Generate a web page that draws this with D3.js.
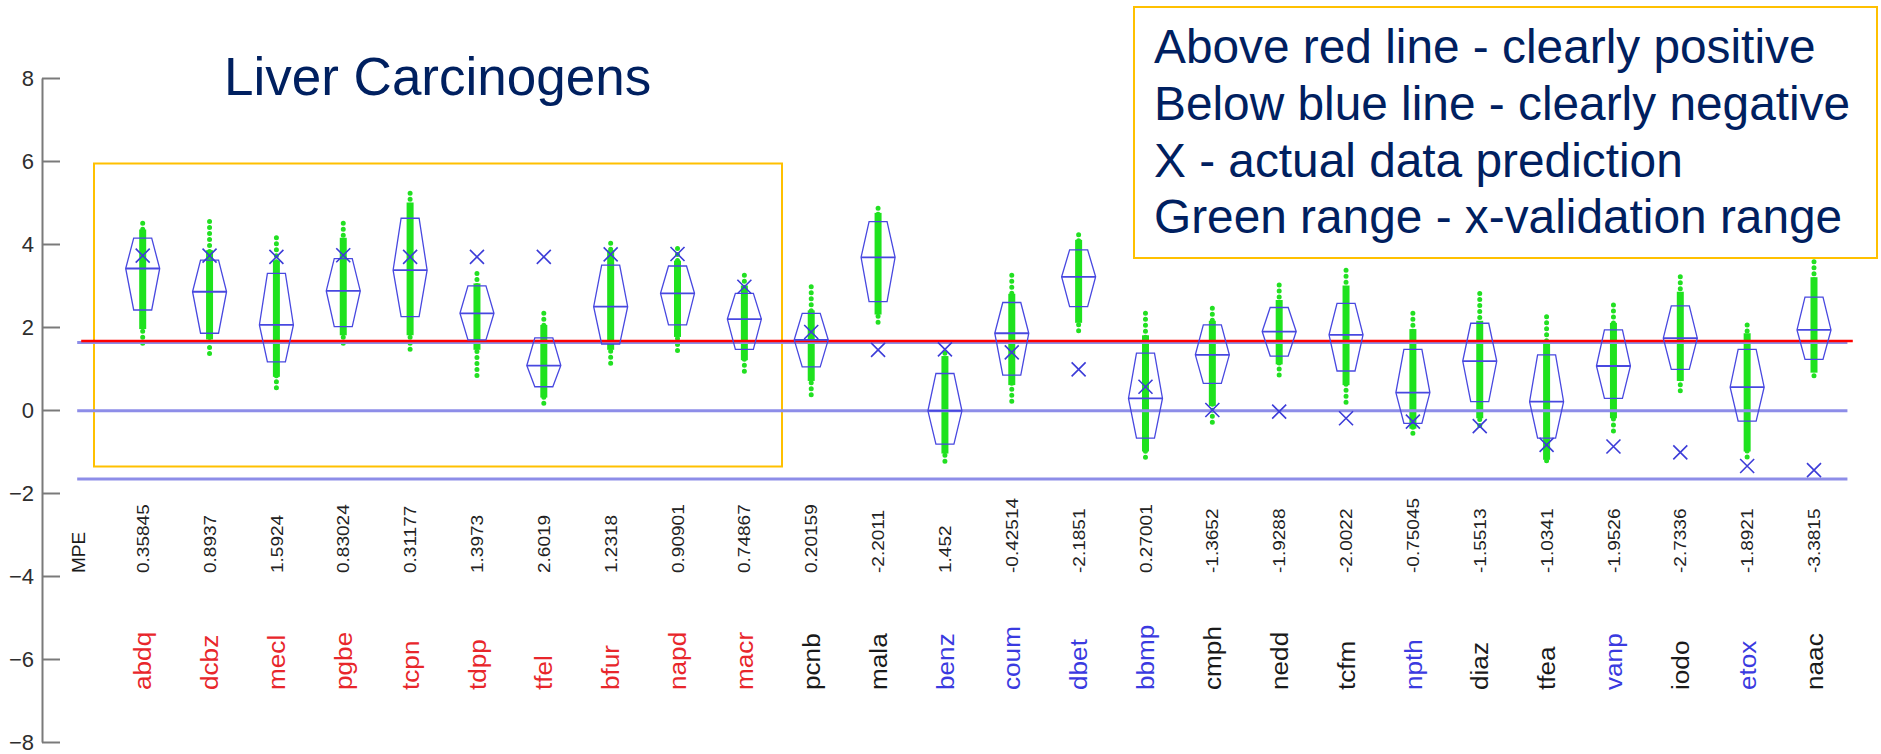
<!DOCTYPE html>
<html>
<head>
<meta charset="utf-8">
<script src="https://cdn.jsdelivr.net/npm/d3@7"></script>
<style>
  html, body { margin: 0; padding: 0; background: #fff; }
  svg { display: block; font-family: "Liberation Sans", Arial, sans-serif; }
  .ylab { font-size: 22px; fill: #2e2e2e; }
</style>
</head>
<body>
<svg id="chart" width="1881" height="754"></svg>
<script>
// Compounds tested, in plotting order
const compounds = ["abdq","dcbz","mecl","pgbe","tcpn","tdpp","tfel","bfur","napd","macr",
  "pcnb","mala","benz","coum","dbet","bbmp","cmph","nedd","tcfm","npth","diaz","tfea",
  "vanp","iodo","etox","naac"];
// Known class: pos = carcinogen, neg = non-carcinogen, unk = not established
const knownClass = ["pos","pos","pos","pos","pos","pos","pos","pos","pos","pos",
  "unk","unk","neg","neg","neg","neg","unk","unk","unk","neg","unk","unk",
  "neg","unk","neg","unk"];
// Mean prediction error per compound
const mpeLabels = ["0.35845","0.8937","1.5924","0.83024","0.31177","1.3973","2.6019","1.2318",
  "0.90901","0.74867","0.20159","-2.2011","1.452","-0.42514","-2.1851","0.27001","-1.3652",
  "-1.9288","-2.0022","-0.75045","-1.5513","-1.0341","-1.9526","-2.7336","-1.8921","-3.3815"];
// Cross-validation score distribution per compound
const upperQuartile = [4.14,3.61,3.29,3.65,4.62,2.99,1.74,3.49,3.47,2.81,2.33,4.54,0.88,2.59,
  3.86,1.37,2.05,2.47,2.57,1.46,2.09,1.33,1.93,2.51,1.46,2.72];
const medianScore = [3.41,2.85,2.05,2.87,3.37,2.33,1.07,2.49,2.81,2.19,1.69,3.68,-0.02,1.85,
  3.21,0.28,1.33,1.89,1.81,0.42,1.18,0.20,1.06,1.73,0.55,1.93];
const lowerQuartile = [2.41,1.85,1.16,2.01,2.25,1.69,0.56,1.59,2.05,1.46,1.04,2.61,-0.82,0.84,
  2.49,-0.68,0.64,1.30,0.94,-0.32,0.20,-0.68,0.28,0.98,-0.27,1.22];
const runMax = [4.50,4.54,4.15,4.50,5.22,3.29,2.33,4.02,3.89,3.25,2.97,4.86,1.37,3.25,4.22,
  2.33,2.45,3.01,3.37,2.33,2.81,2.25,2.53,3.21,2.05,3.57];
const denseTop = [4.35,3.85,3.60,4.15,5.00,3.05,2.05,3.85,3.60,3.00,2.40,4.75,1.30,2.80,4.10,
  1.80,2.15,2.65,3.00,1.95,2.15,1.60,2.10,2.85,1.85,3.20];
const denseBottom = [1.95,1.70,0.80,1.80,1.80,1.45,0.30,1.45,1.76,1.20,0.70,2.30,-1.05,0.60,
  2.10,-1.00,0.10,1.10,0.60,-0.45,-0.20,-1.20,-0.20,0.70,-1.00,0.90];
const runMin = [1.53,1.25,0.48,1.57,1.33,0.80,0.12,1.08,1.37,0.88,0.34,1.97,-1.29,0.20,1.89,
  -1.25,-0.32,0.84,0.08,-0.64,-0.48,-1.29,-0.52,0.36,-1.16,0.68];
// Prediction from the full data set
const actualPrediction = [3.72,3.72,3.69,3.73,3.69,3.69,3.69,3.75,3.76,2.97,1.88,1.45,1.46,
  1.39,0.98,0.56,0.00,-0.04,-0.20,-0.28,-0.39,-0.84,-0.88,-1.02,-1.35,-1.45];
// Decision thresholds
const thresholds = [1.645, 0, -1.645];
const yTicks = [-8,-6,-4,-2,0,2,4,6,8];
const legendLines = ["Above red line - clearly positive","Below blue line - clearly negative",
  "X - actual data prediction","Green range - x-validation range"];

const classColor = { pos: "#e8262b", neg: "#3a3ae0", unk: "#1a1a1a" };
const boxBlue = "#4848e0";
const navy = "#002060";
const gold = "#ffc000";

const svg = d3.select("#chart");

const y = d3.scaleLinear().domain([-8, 8]).range([742, 78]);
const x = d3.scalePoint().domain(compounds).range([142.7, 1814]);
const xi = d3.scaleLinear().domain([0, compounds.length - 1]).range([142.7, 1814]);

const rows = compounds.map((c, i) => ({
  name: c, cls: knownClass[i], mpe: mpeLabels[i],
  q3: upperQuartile[i], med: medianScore[i], q1: lowerQuartile[i],
  hi: runMax[i], dHi: denseTop[i], dLo: denseBottom[i], lo: runMin[i],
  pred: actualPrediction[i]
}));

// y axis, ticks pointing into the plot; labels drawn separately
const axisX = 42;
const axisG = svg.append("g").attr("transform", `translate(${axisX},0)`)
  .call(d3.axisLeft(y).tickValues(yTicks).tickSizeInner(-18).tickSizeOuter(0).tickFormat(""));
axisG.select(".domain").attr("stroke", "#7a7a7a").attr("stroke-width", 2);
axisG.selectAll(".tick line").attr("stroke", "#7a7a7a").attr("stroke-width", 2);
axisG.selectAll(".tick text").remove();
svg.append("g").selectAll("text").data(yTicks).join("text")
  .attr("class", "ylab")
  .attr("x", axisX - 8).attr("y", d => y(d)).attr("dy", "0.36em")
  .attr("text-anchor", "end").attr("font-size", 22)
  .text(d => d3.format("d")(d));

// highlight frame around the known carcinogens
svg.append("rect")
  .attr("x", 94).attr("y", 163.5).attr("width", 688).attr("height", 303)
  .attr("fill", "none").attr("stroke", gold).attr("stroke-width", 2);

// green cross-validation runs: sparse tails as dots, dense core as a solid bar
const runs = svg.append("g");
runs.selectAll("line.tail").data(rows).join("line")
  .attr("x1", d => x(d.name)).attr("x2", d => x(d.name))
  .attr("y1", d => y(d.hi)).attr("y2", d => y(d.lo))
  .attr("stroke", "#22e022").attr("stroke-width", 5)
  .attr("stroke-linecap", "round").attr("stroke-dasharray", "0 6");
runs.selectAll("line.core").data(rows).join("line")
  .attr("x1", d => x(d.name)).attr("x2", d => x(d.name))
  .attr("y1", d => y(d.dHi)).attr("y2", d => y(d.dLo))
  .attr("stroke", "#1ee21e").attr("stroke-width", 7);

// threshold lines
const lineX0 = xi(-0.98), lineX1 = xi(25.5);
svg.selectAll("line.thr").data(thresholds).join("line")
  .attr("x1", lineX0).attr("x2", lineX1)
  .attr("y1", d => y(d) + 0.8).attr("y2", d => y(d) + 0.8)
  .attr("stroke", "#8d8de8").attr("stroke-width", 3);
svg.append("line")
  .attr("x1", xi(-0.92)).attr("x2", xi(25.58))
  .attr("y1", y(thresholds[0]) - 0.8).attr("y2", y(thresholds[0]) - 0.8)
  .attr("stroke", "#ff0000").attr("stroke-width", 2.6);

// notched boxes
const halfEdge = 9, halfMid = 17;
const boxes = svg.append("g").attr("fill", "none").attr("stroke", boxBlue).attr("stroke-width", 1.3);
boxes.selectAll("path").data(rows).join("path")
  .attr("d", d => {
    const cx = x(d.name);
    return d3.line()([
      [cx - halfEdge, y(d.q3)], [cx + halfEdge, y(d.q3)], [cx + halfMid, y(d.med)],
      [cx + halfEdge, y(d.q1)], [cx - halfEdge, y(d.q1)], [cx - halfMid, y(d.med)]
    ]) + "Z";
  });
boxes.selectAll("line").data(rows).join("line")
  .attr("x1", d => x(d.name) - halfMid).attr("x2", d => x(d.name) + halfMid)
  .attr("y1", d => y(d.med)).attr("y2", d => y(d.med))
  .attr("stroke-width", 1.8);

// actual prediction markers
const s = 7;
svg.append("g").selectAll("path").data(rows).join("path")
  .attr("d", d => {
    const cx = x(d.name), cy = y(d.pred);
    return `M${cx - s},${cy - s}L${cx + s},${cy + s}M${cx - s},${cy + s}L${cx + s},${cy - s}`;
  })
  .attr("stroke", "#3c3cd8").attr("stroke-width", 1.6).attr("fill", "none");

// rotated labels below the plot
svg.append("text")
  .attr("transform", `translate(78,573) rotate(-90)`)
  .attr("dy", "0.36em").attr("font-size", 19).attr("fill", "#1a1a1a").text("MPE");
svg.append("g").selectAll("text").data(rows).join("text")
  .attr("transform", d => `translate(${x(d.name)},573) rotate(-90) scale(1.12,1)`)
  .attr("dy", "0.36em").attr("font-size", 17).attr("fill", "#222")
  .text(d => d.mpe);
svg.append("g").selectAll("text").data(rows).join("text")
  .attr("transform", d => `translate(${x(d.name)},690) rotate(-90) scale(1.09,1)`)
  .attr("dy", "0.36em").attr("font-size", 24).attr("fill", d => classColor[d.cls])
  .text(d => d.name);

// title
svg.append("text").attr("x", 224).attr("y", 95)
  .attr("font-size", 53).attr("fill", navy).text("Liver Carcinogens");

// legend
svg.append("rect").attr("x", 1134).attr("y", 7).attr("width", 743).attr("height", 251)
  .attr("fill", "#fff").attr("stroke", gold).attr("stroke-width", 2);
svg.append("g").selectAll("text").data(legendLines).join("text")
  .attr("x", 1154).attr("y", (d, i) => 62.7 + i * 56.9)
  .attr("font-size", 47.8).attr("fill", navy).text(d => d);
</script>
</body>
</html>
